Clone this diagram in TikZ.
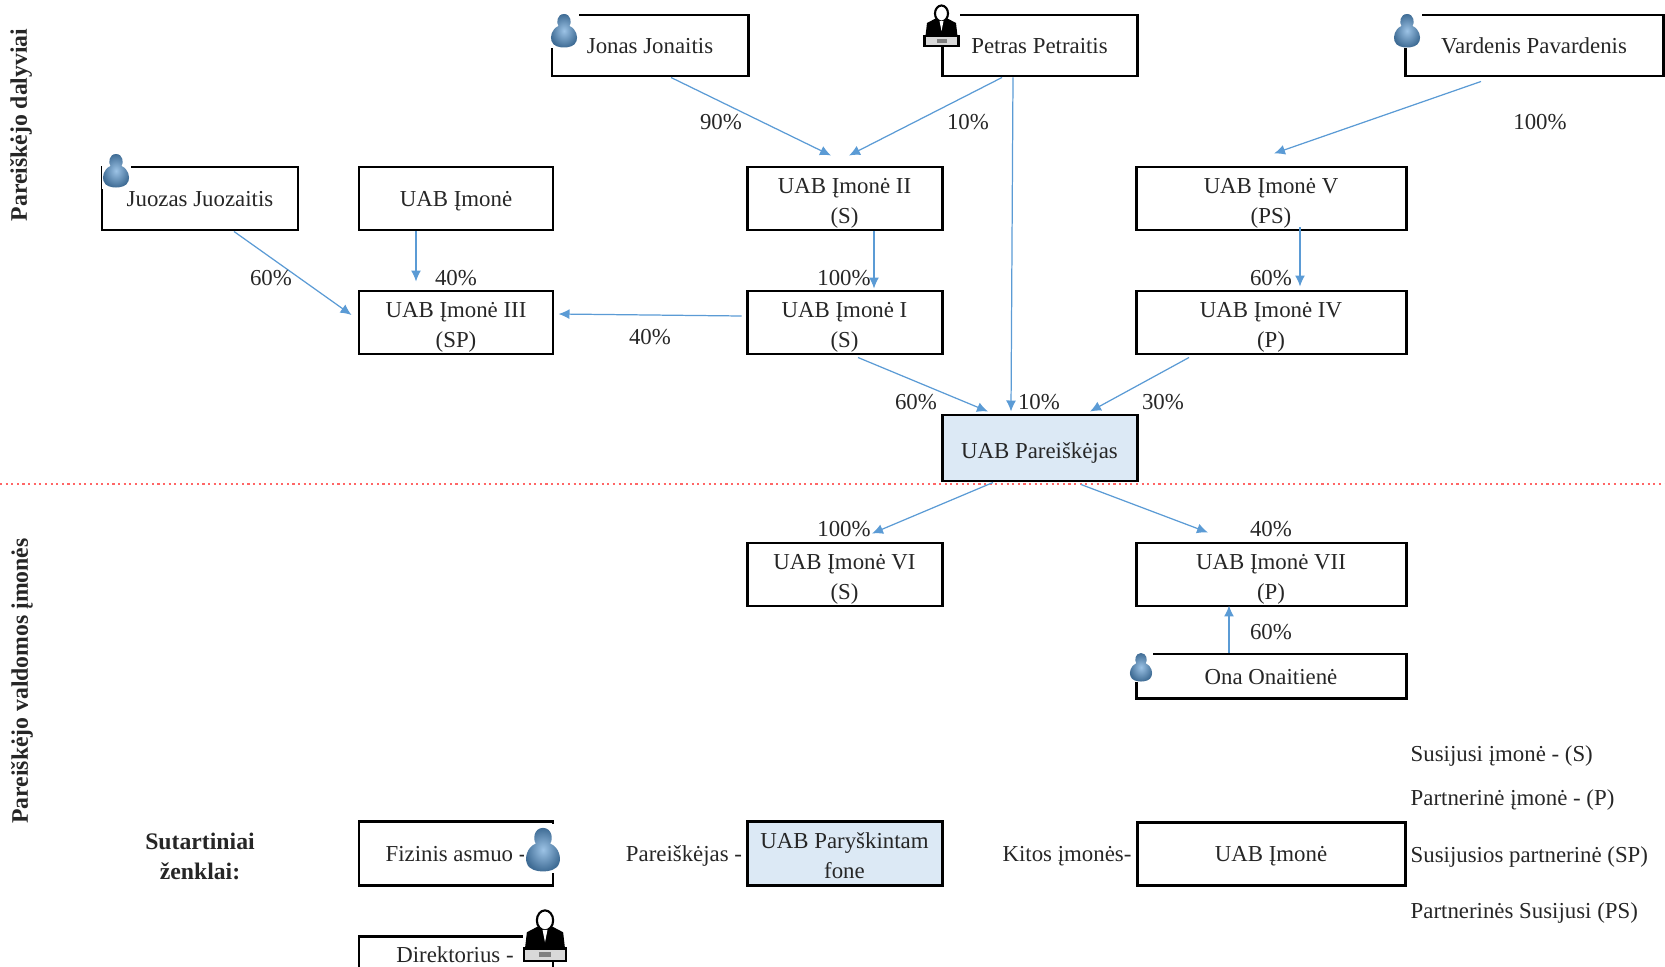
\documentclass[tikz,border=0pt]{standalone}
\usepackage{fontspec}
\setmainfont{Liberation Serif}
\usepackage{xcolor}
\usepackage{tikz}
\usetikzlibrary{arrows.meta}

\definecolor{arrowblue}{HTML}{5B9BD5}
\definecolor{boxfill}{HTML}{DCE9F5}

\tikzset{
  boxnode/.style={draw=black, line width=0.85pt, fill=white, inner sep=0pt, align=center, text=black!85,
    text height=6.2pt, text depth=1.4pt, font=\fontsize{6.5}{8.5}\selectfont},
  twolines/.style={text height=15.7pt, text depth=1.4pt},
  appnode/.style={boxnode, fill=boxfill},
  plain/.style={inner sep=0pt, align=center, text=black!85, font=\fontsize{6.5}{8.5}\selectfont},
  pct/.style={plain},
  sidelabel/.style={inner sep=0pt, rotate=90, text=black!85, font=\fontsize{6.75}{8.5}\selectfont\bfseries},
  conn/.style={draw=arrowblue, line width=0.35pt, -{Latex[length=0.11cm,width=0.1cm]}},
  redline/.style={draw=red!60, line width=0.6pt, densely dotted},
  person/.pic={
    \fill[white] (-0.145,-0.175) rectangle (0.145,0.2);
    \shade[inner color=arrowblue!60, outer color=arrowblue!70!black]
      (0,0.17) .. controls (0.07,0.17) and (0.08,0.08) .. (0.055,0.05)
      .. controls (0.125,0.02) and (0.14,-0.06) .. (0.125,-0.10)
      .. controls (0.11,-0.155) and (0.04,-0.165) .. (0,-0.165)
      .. controls (-0.04,-0.165) and (-0.11,-0.155) .. (-0.125,-0.10)
      .. controls (-0.14,-0.06) and (-0.125,0.02) .. (-0.055,0.05)
      .. controls (-0.08,0.08) and (-0.07,0.17) .. (0,0.17) -- cycle;
  },
  director/.pic={
    \fill[white] (-0.18,-0.21) rectangle (0.18,0.21);
    \fill[black] (-0.16,-0.1) -- (-0.145,0.03) -- (-0.05,0.08) -- (0.05,0.08) -- (0.145,0.03) -- (0.16,-0.1) -- cycle;
    \draw[black, fill=white, line width=0.6pt] (0,0.125) ellipse [x radius=0.065, y radius=0.08];
    \fill[white] (-0.02,0.05) -- (0.02,0.05) -- (0,-0.05) -- cycle;
    \draw[black, fill=black!15, line width=0.7pt] (-0.17,-0.2) rectangle (0.17,-0.1);
    \fill[black!50] (-0.05,-0.17) rectangle (0.05,-0.13);
  }
}

\begin{document}
\begin{tikzpicture}
    \useasboundingbox (0,0) rectangle (16.65,9.66);
    \clip (0,0) rectangle (16.65,9.66);
    % side titles
    \node[sidelabel] (dalyviai) at (0.21,8.41) {Pareiškėjo dalyviai};
    \node[sidelabel] (valdomos) at (0.22,2.85) {Pareiškėjo valdomos įmonės};

    % dotted line
    \coordinate (linestart) at (0,4.82);
    \coordinate (lineend) at (16.65,4.82);
    \draw[redline] (linestart) -- (lineend);

    % top row
    \node[boxnode, minimum width=1.96cm, minimum height=0.61cm] (jonas) at (6.50,9.205) {Jonas Jonaitis};
    \node[boxnode, minimum width=1.95cm, minimum height=0.61cm] (petras) at (10.395,9.205) {Petras Petraitis};
    \node[boxnode, minimum width=2.58cm, minimum height=0.61cm] (vardenis) at (15.34,9.205) {Vardenis Pavardenis};

    % second row
    \node[boxnode, minimum width=1.96cm, minimum height=0.63cm] (juozas) at (2.00,7.675) {Juozas Juozaitis};
    \node[boxnode, minimum width=1.94cm, minimum height=0.63cm] (imone) at (4.56,7.675) {UAB Įmonė};
    \node[boxnode, twolines, minimum width=1.95cm, minimum height=0.63cm] (imoneii) at (8.445,7.675) {UAB Įmonė II\\(S)};
    \node[boxnode, twolines, minimum width=2.70cm, minimum height=0.63cm] (imonev) at (12.71,7.675) {UAB Įmonė V\\(PS)};

    % third row
    \node[boxnode, twolines, minimum width=1.94cm, minimum height=0.63cm] (imoneiii) at (4.56,6.435) {UAB Įmonė III\\(SP)};
    \node[boxnode, twolines, minimum width=1.95cm, minimum height=0.63cm] (imonei) at (8.445,6.435) {UAB Įmonė I\\(S)};
    \node[boxnode, twolines, minimum width=2.70cm, minimum height=0.63cm] (imoneiv) at (12.71,6.435) {UAB Įmonė IV\\(P)};

    % applicant
    \node[appnode, text height=7.2pt, minimum width=1.95cm, minimum height=0.66cm] (pareiskejas) at (10.395,5.18) {UAB Pareiškėjas};

    % below the line
    \node[boxnode, twolines, minimum width=1.95cm, minimum height=0.63cm] (imonevi) at (8.445,3.915) {UAB Įmonė VI\\(S)};
    \node[boxnode, twolines, minimum width=2.70cm, minimum height=0.63cm] (imonevii) at (12.71,3.915) {UAB Įmonė VII\\(P)};
    \node[boxnode, minimum width=2.70cm, minimum height=0.44cm] (ona) at (12.71,2.90) {Ona Onaitienė};

    % legend
    \node[plain, font=\fontsize{6.75}{8.5}\selectfont\bfseries] (sutartiniai) at (2.00,1.10) {Sutartiniai\\ženklai:};
    \node[boxnode, minimum width=1.94cm, minimum height=0.64cm] (fizinis) at (4.56,1.13) {Fizinis asmuo -};
    \node[boxnode, minimum width=1.94cm, minimum height=0.64cm] (direktorius) at (4.56,-0.02) {};
    \node[plain] (direktoriustxt) at (4.55,0.11) {Direktorius -};
    \node[plain] (parlegend) at (6.84,1.10) {Pareiškėjas -};
    \node[appnode, twolines, minimum width=1.95cm, minimum height=0.64cm] (paryskintam) at (8.445,1.13) {UAB Paryškintam\\fone};
    \node[plain] (kitos) at (10.67,1.10) {Kitos įmonės-};
    \node[boxnode, minimum width=2.68cm, minimum height=0.63cm] (imonelegend) at (12.71,1.125) {UAB Įmonė};
    \node[plain, anchor=west] (susijusi) at (14.10,2.10) {Susijusi įmonė - (S)};
    \node[plain, anchor=west] (partnerine) at (14.10,1.66) {Partnerinė įmonė - (P)};
    \node[plain, anchor=west] (susijusios) at (14.10,1.09) {Susijusios partnerinė (SP)};
    \node[plain, anchor=west] (partnerines) at (14.10,0.53) {Partnerinės Susijusi (PS)};

    % icons
    \pic at (5.64,9.35) {person};
    \pic at (1.16,7.95) {person};
    \pic at (14.07,9.35) {person};
    \pic[scale=0.85] at (11.41,2.985) {person};
    \pic[scale=1.3] at (5.43,1.16) {person};
    \pic at (9.415,9.40) {director};
    \pic[scale=1.25] at (5.45,0.30) {director};

    % arrows
    \draw[conn] ([xshift=0.21cm]jonas.south) -- ([xshift=-0.135cm,yshift=0.10cm]imoneii.north);
    \draw[conn] ([xshift=-0.375cm]petras.south) -- ([xshift=0.045cm,yshift=0.10cm]imoneii.north);
    \draw[conn] ([xshift=-0.265cm]petras.south) -- ([xshift=-0.285cm,yshift=0.02cm]pareiskejas.north);
    \draw[conn] ([xshift=-0.53cm,yshift=-0.04cm]vardenis.south) -- ([xshift=0.03cm,yshift=0.12cm]imonev.north);
    \draw[conn] ([xshift=0.34cm]juozas.south) -- ([xshift=-0.06cm,yshift=0.075cm]imoneiii.west);
    \draw[conn] ([xshift=-0.40cm]imone.south) -- ([xshift=-0.40cm,yshift=0.08cm]imoneiii.north);
    \draw[conn] ([xshift=-0.04cm,yshift=0.065cm]imonei.west) -- ([xshift=0.04cm,yshift=0.085cm]imoneiii.east);
    \draw[conn] ([xshift=0.295cm]imoneii.south) -- ([xshift=0.295cm,yshift=0.01cm]imonei.north);
    \draw[conn] ([xshift=0.29cm,yshift=0.04cm]imonev.south) -- ([xshift=0.29cm,yshift=0.03cm]imoneiv.north);
    \draw[conn] ([xshift=0.135cm,yshift=-0.02cm]imonei.south) -- ([xshift=-0.515cm,yshift=0.02cm]pareiskejas.north);
    \draw[conn] ([xshift=-0.82cm,yshift=-0.02cm]imoneiv.south) -- ([xshift=0.505cm,yshift=0.02cm]pareiskejas.north);
    \draw[conn] ([xshift=-0.465cm]pareiskejas.south) -- ([xshift=0.275cm,yshift=0.08cm]imonevi.north);
    \draw[conn] ([xshift=0.415cm,yshift=-0.02cm]pareiskejas.south) -- ([xshift=-0.63cm,yshift=0.09cm]imonevii.north);
    \draw[conn] ([xshift=-0.42cm]ona.north) -- ([xshift=-0.42cm,yshift=0.02cm]imonevii.south);

    % percentages
    \node[pct] (p1) at (7.21,8.44) {90\%};
    \node[pct] (p2) at (9.68,8.44) {10\%};
    \node[pct] (p3) at (15.40,8.44) {100\%};
    \node[pct] (p4) at (2.71,6.88) {60\%};
    \node[pct] (p5) at (4.56,6.88) {40\%};
    \node[pct] (p6) at (8.44,6.88) {100\%};
    \node[pct] (p7) at (12.71,6.88) {60\%};
    \node[pct] (p8) at (6.50,6.29) {40\%};
    \node[pct] (p9) at (9.16,5.64) {60\%};
    \node[pct] (p10) at (10.39,5.64) {10\%};
    \node[pct] (p11) at (11.63,5.64) {30\%};
    \node[pct] (p12) at (8.44,4.37) {100\%};
    \node[pct] (p13) at (12.71,4.37) {40\%};
    \node[pct] (p14) at (12.71,3.34) {60\%};
\end{tikzpicture}
\end{document}
